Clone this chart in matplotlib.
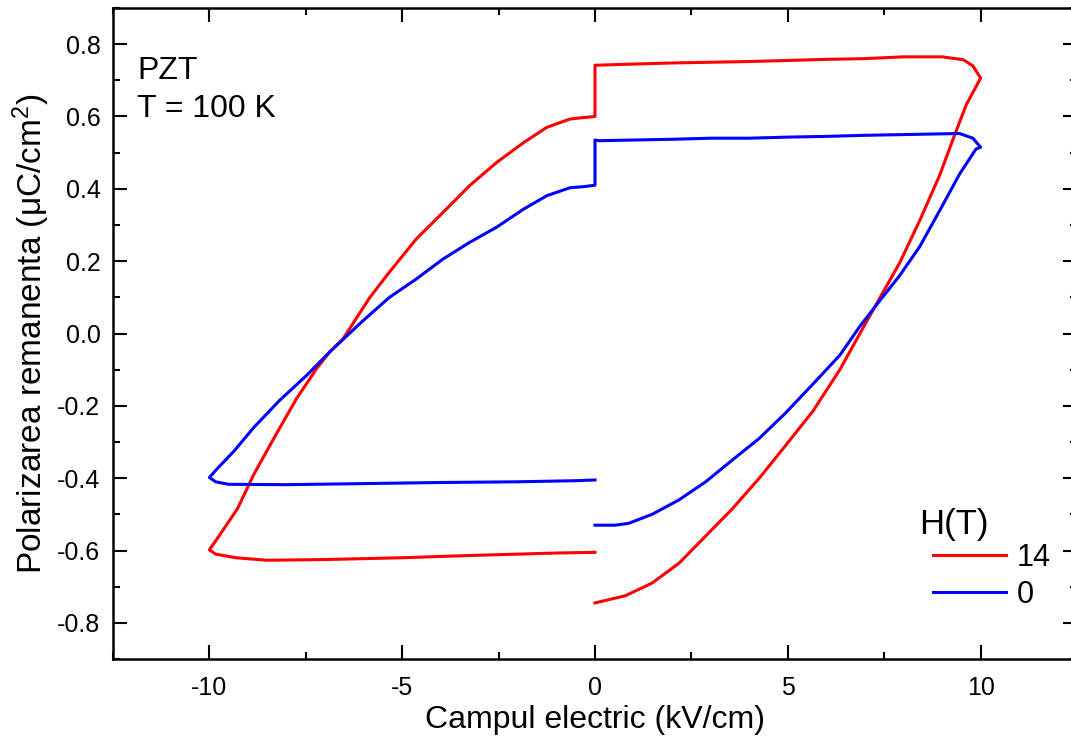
import numpy as np
import matplotlib
matplotlib.use("Agg")
import matplotlib.pyplot as plt
from matplotlib.ticker import MultipleLocator

plt.rcParams['font.family'] = ['Liberation Sans', 'DejaVu Sans']
plt.rcParams['mathtext.fontset'] = 'custom'
plt.rcParams['mathtext.rm'] = 'Liberation Sans'
plt.rcParams['mathtext.it'] = 'Liberation Sans:italic'
plt.rcParams['axes.unicode_minus'] = False

# ---- H = 14 T loop (red) ----
e14 = [0.0, 0.79, 1.48, 2.18, 2.87, 3.56, 4.26, 4.94, 5.65, 6.35, 6.87, 7.38, 7.9,
       8.42, 8.94, 9.33, 9.63, 10.0, 9.8, 9.55, 9.0, 8.0, 7.0, 6.0, 5.0, 4.0, 3.0,
       2.0, 1.0, 0.1, 0.0, 0.0, -0.3, -0.65, -1.25, -1.85, -2.55, -3.25, -3.94,
       -4.63, -5.33, -5.85, -6.53, -6.88, -7.22, -7.74, -8.33, -8.85, -9.27, -9.79,
       -10.0, -9.84, -9.32, -8.5, -7.0, -5.0, -3.0, -1.0, 0.0]
p14 = [-0.745, -0.725, -0.69, -0.635, -0.56, -0.485, -0.40, -0.31, -0.215, -0.10,
       0.0, 0.097, 0.195, 0.312, 0.438, 0.55, 0.633, 0.706, 0.74, 0.757, 0.765,
       0.765, 0.760, 0.758, 0.755, 0.752, 0.750, 0.748, 0.745, 0.742, 0.742, 0.60,
       0.597, 0.593, 0.57, 0.528, 0.473, 0.409, 0.335, 0.262, 0.17, 0.098, -0.014,
       -0.051, -0.097, -0.18, -0.29, -0.39, -0.484, -0.566, -0.598, -0.61, -0.62,
       -0.627, -0.625, -0.62, -0.613, -0.607, -0.605]

# ---- H = 0 T loop (blue) ----
e0 = [0.0, 0.52, 0.87, 1.48, 2.18, 2.87, 3.56, 4.26, 4.94, 5.65, 6.35, 6.87, 7.38,
      7.9, 8.42, 8.94, 9.45, 9.88, 10.0, 9.8, 9.45, 8.0, 7.0, 6.0, 5.0, 4.0, 3.0,
      2.0, 1.0, 0.1, 0.0, 0.0, -0.3, -0.65, -1.25, -1.85, -2.55, -3.25, -3.94,
      -4.63, -5.33, -6.02, -6.88, -7.48, -8.18, -8.85, -9.36, -9.79, -10.0, -9.84,
      -9.5, -8.0, -6.0, -4.0, -2.0, -0.5, 0.0]
p0 = [-0.53, -0.53, -0.525, -0.50, -0.46, -0.41, -0.35, -0.29, -0.22, -0.14, -0.06,
      0.02, 0.09, 0.16, 0.24, 0.34, 0.44, 0.51, 0.515, 0.54, 0.553, 0.55, 0.548,
      0.545, 0.543, 0.54, 0.54, 0.537, 0.535, 0.533, 0.535, 0.41, 0.406, 0.403,
      0.381, 0.344, 0.294, 0.252, 0.206, 0.151, 0.10, 0.035, -0.051, -0.116,
      -0.185, -0.26, -0.325, -0.373, -0.398, -0.41, -0.417, -0.418, -0.415,
      -0.412, -0.41, -0.407, -0.405]

fig = plt.figure(figsize=(10.71, 7.47), dpi=100)
# right spine sits just past the picture edge, as in the original crop
ax = fig.add_axes([113 / 1071, 88 / 747, 964 / 1071, 651 / 747])

ax.plot(e14, p14, color='#ff0000', lw=2.2, label='14')
ax.plot(e0, p0, color='#0000ff', lw=2.2, label='0')

ax.set_xlim(-12.5, 12.5)
ax.set_ylim(-0.9, 0.9)
ax.xaxis.set_major_locator(MultipleLocator(5))
ax.xaxis.set_minor_locator(MultipleLocator(2.5))
ax.yaxis.set_major_locator(MultipleLocator(0.2))
ax.yaxis.set_minor_locator(MultipleLocator(0.1))
ax.yaxis.set_major_formatter(plt.FuncFormatter(lambda v, _: f"{v:.1f}"))

ax.tick_params(which='both', direction='in', top=True, right=True,
               width=1.5, labelsize=18)
ax.tick_params(which='major', length=10)
ax.tick_params(axis='y', which='major', pad=9)
ax.tick_params(axis='x', which='major', pad=12)
ax.tick_params(which='minor', length=5)
for s in ax.spines.values():
    s.set_linewidth(1.8)

ax.set_xlabel('Campul electric (kV/cm)', fontsize=23, labelpad=4)
ax.set_ylabel('Polarizarea remanenta (μC/cm$^2$)', fontsize=24, labelpad=4)

ax.text(0.025, 0.927, 'PZT', transform=ax.transAxes, fontsize=23, va='top')
ax.text(0.025, 0.868, 'T = 100 K', transform=ax.transAxes, fontsize=23, va='top')

# legend title placed by hand (sits left of the handles in the original)
ax.text(0.836, 0.232, 'H(T)', transform=ax.transAxes, fontsize=25, va='top')
leg = ax.legend(loc='lower right', frameon=False, fontsize=22,
                handlelength=2.4, handletextpad=0.35,
                labelspacing=0.25, borderpad=0, borderaxespad=0,
                bbox_to_anchor=(0.973, 0.075))

fig.savefig('out.png', dpi=100)
